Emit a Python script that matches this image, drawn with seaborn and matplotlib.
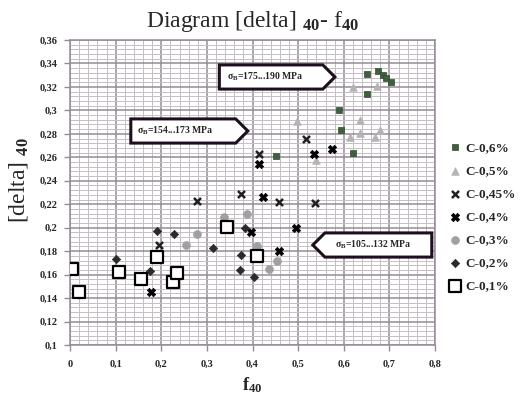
import matplotlib
matplotlib.use("Agg")
import matplotlib.pyplot as plt
import seaborn as sns
from matplotlib.path import Path
from matplotlib.ticker import MultipleLocator, FuncFormatter

# ---------------- data ----------------
c06_x = [0.650, 0.676, 0.687, 0.693, 0.703, 0.650, 0.590, 0.594, 0.620, 0.452]
c06_y = [0.331, 0.334, 0.330, 0.328, 0.324, 0.314, 0.300, 0.283, 0.264, 0.261]

c05_x = [0.621, 0.673, 0.636, 0.614, 0.636, 0.669, 0.680, 0.497, 0.539]
c05_y = [0.320, 0.321, 0.292, 0.277, 0.281, 0.277, 0.283, 0.291, 0.258]

c045_x = [0.279, 0.374, 0.459, 0.537, 0.415, 0.517, 0.196]
c045_y = [0.223, 0.229, 0.222, 0.221, 0.263, 0.276, 0.185]

c04_x = [0.424, 0.495, 0.397, 0.459, 0.535, 0.575, 0.415, 0.178]
c04_y = [0.226, 0.200, 0.196, 0.180, 0.263, 0.267, 0.254, 0.145]

c03_x = [0.278, 0.254, 0.338, 0.387, 0.409, 0.453, 0.437]
c03_y = [0.195, 0.185, 0.209, 0.212, 0.184, 0.172, 0.165]

c02_x = [0.190, 0.175, 0.314, 0.404, 0.384, 0.101, 0.229, 0.375, 0.373]
c02_y = [0.197, 0.163, 0.183, 0.158, 0.200, 0.173, 0.195, 0.177, 0.164]

c01_x = [0.004, 0.020, 0.108, 0.156, 0.190, 0.225, 0.235, 0.344, 0.409]
c01_y = [0.165, 0.145, 0.162, 0.156, 0.175, 0.154, 0.161, 0.201, 0.176]

series_labels = ["C-0,6%", "C-0,5%", "C-0,45%", "C-0,4%", "C-0,3%", "C-0,2%", "C-0,1%"]
box_texts = [r"σ$_\mathbf{B}$=175...190 MPa", r"σ$_\mathbf{B}$=154...173 MPa", r"σ$_\mathbf{B}$=105...132 MPa"]

x_ticks = [0, 0.1, 0.2, 0.3, 0.4, 0.5, 0.6, 0.7, 0.8]
y_ticks = [0.10, 0.12, 0.14, 0.16, 0.18, 0.20, 0.22, 0.24, 0.26, 0.28, 0.30, 0.32, 0.34, 0.36]

# ---------------- style ----------------
sns.set_theme(style="white")
plt.rcParams["font.family"] = ["Liberation Serif", "DejaVu Serif"]
plt.rcParams["font.weight"] = "bold"
plt.rcParams["mathtext.fontset"] = "custom"
plt.rcParams["mathtext.rm"] = "Liberation Serif"
plt.rcParams["mathtext.bf"] = "Liberation Serif:bold"
plt.rcParams["mathtext.it"] = "Liberation Serif:italic"

fig = plt.figure(figsize=(5.22, 3.96), dpi=100)
ax = fig.add_axes([70 / 522, 51 / 396, 365 / 522, 305 / 396])

styles = [
    (c06_x, c06_y, dict(marker="s", s=24, color="#3f5f3f", edgecolor="#2f4a2f", linewidth=0.5)),
    (c05_x, c05_y, dict(marker="^", s=30, color="#b4b4b4", edgecolor="#b4b4b4", linewidth=0.5)),
    (c045_x, c045_y, dict(marker="x", s=26, color="#202020", linewidth=1.8)),
    (c04_x, c04_y, dict(marker="X", s=36, color="#000000", edgecolor="#000000", linewidth=0.5)),
    (c03_x, c03_y, dict(marker="o", s=32, color="#a0a0a0", edgecolor="#a0a0a0", linewidth=0.5)),
    (c02_x, c02_y, dict(marker="D", s=18, color="#2a2a2a", edgecolor="#2a2a2a", linewidth=0.5)),
    (c01_x, c01_y, dict(marker="s", s=80, color="white", edgecolor="black", linewidth=1.6)),
]

for (xs, ys, kw), lab in zip(styles, series_labels):
    sns.scatterplot(x=xs, y=ys, ax=ax, label=lab, legend=False, zorder=3, **kw)

ax.set_xlim(0, 0.8)
ax.set_ylim(0.1, 0.36)
ax.set_xticks(x_ticks)
ax.set_yticks(y_ticks)
ax.xaxis.set_minor_locator(MultipleLocator(0.02))
ax.yaxis.set_minor_locator(MultipleLocator(0.004))


def comma_fmt(v, pos):
    return f"{round(v, 3):g}".replace(".", ",")


ax.xaxis.set_major_formatter(FuncFormatter(comma_fmt))
ax.yaxis.set_major_formatter(FuncFormatter(comma_fmt))
ax.set_axisbelow(True)
ax.grid(which="minor", color="#c6bec6", linewidth=0.7)
ax.grid(which="major", color="#968a96", linewidth=1.1)
ax.tick_params(which="major", length=4, width=1, color="#968a96", labelsize=7.5, pad=5,
               bottom=True, left=True)
ax.tick_params(axis="x", which="major", pad=7)
ax.tick_params(which="minor", length=0)
for lbl in ax.get_xticklabels() + ax.get_yticklabels():
    lbl.set_fontweight("bold")
for sp in ax.spines.values():
    sp.set_color("#968a96")
    sp.set_linewidth(1.1)

# titles & labels
ax.set_title(r"Diagram [delta] $_{\mathbf{40}}$- f$_{\mathbf{40}}$", fontsize=17,
             fontweight="normal", pad=9)
fig.text(18 / 522, 1 - 180 / 396, r"[delta] $_{\mathbf{40}}$", rotation=90, fontsize=17,
         fontweight="normal", ha="center", va="center")
fig.text(252 / 522, 1 - 385 / 396, r"f$_{\mathbf{40}}$", fontsize=13, fontweight="bold",
         ha="center", va="center")


# pentagon-arrow boxes
def make_pent(direction, lpad, rpad, vpad):
    def style(x0, y0, width, height, mutation_size):
        l = x0 - lpad * mutation_size
        r = x0 + width + rpad * mutation_size
        b = y0 - vpad * mutation_size
        t = y0 + height + vpad * mutation_size
        tip = (t - b) / 2
        m = (t + b) / 2
        if direction == "right":
            verts = [(l, b), (r, b), (r + tip, m), (r, t), (l, t), (l, b)]
        else:
            verts = [(l - tip, m), (l, b), (r, b), (r, t), (l, t), (l - tip, m)]
        return Path(verts, closed=True)
    return style


box_pos = [((265 - 70) / 365, (345 - 77) / 305, "right", 0.75, 2.0),
           ((175 - 70) / 365, (345 - 131) / 305, "right", 0.6, 2.3),
           ((373 - 70) / 365, (345 - 245) / 305, "left", 1.0, 2.1)]
for txt, (bx, by, d, lp, rp) in zip(box_texts, box_pos):
    ax.text(bx, by, txt, transform=ax.transAxes, fontsize=7, fontweight="bold",
            ha="center", va="center", zorder=5,
            bbox=dict(boxstyle=make_pent(d, lp, rp, 0.6), fc="white", ec="#1e0f1e", lw=2.2))

handles, labels = ax.get_legend_handles_labels()
fig.legend(handles, labels, loc="center left", bbox_to_anchor=(449 / 522, 1 - 217 / 396),
           frameon=False, handlelength=0.9, handletextpad=0.35,
           labelspacing=0.82, borderpad=0, borderaxespad=0,
           prop=dict(family="Liberation Serif", weight="bold", size=9.5))

fig.savefig("out.png", dpi=100)
